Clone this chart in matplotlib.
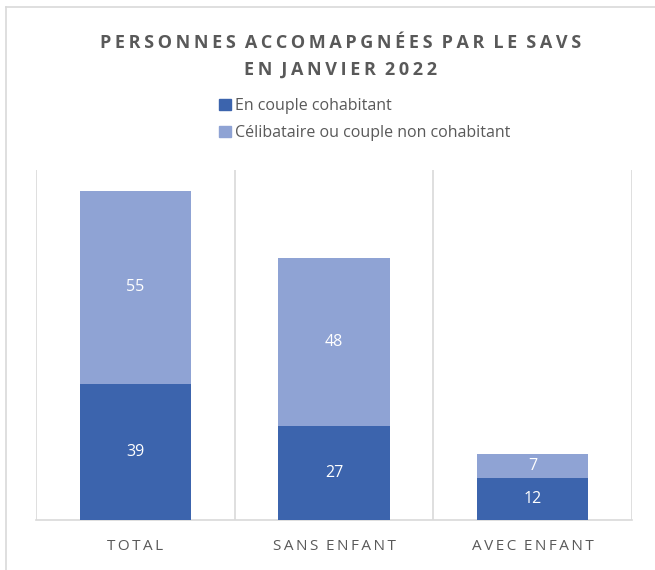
import matplotlib.pyplot as plt
import numpy as np
from matplotlib.lines import Line2D
from matplotlib.patches import Patch

plt.rcParams['font.family'] = ['Open Sans', 'DejaVu Sans']

# data
categories = ['TOTAL', 'SANS ENFANT', 'AVEC ENFANT']
cohabitant = [39, 27, 12]
non_cohabitant = [55, 48, 7]
series_names = ['En couple cohabitant', 'Célibataire ou couple non cohabitant']

dark_blue = '#3C64AD'
light_blue = '#8FA3D4'
grey_txt = '#595959'
grid_col = '#D9D9D9'


def spaced(s):
    # fake letter spacing with thin spaces, wider gap between words
    return '\u2002'.join('\u2009'.join(w) for w in s.split(' '))


fig = plt.figure(figsize=(6.55, 5.70), dpi=100)
ax = fig.add_axes([36 / 655, 1 - 520 / 570, 596 / 655, 350 / 570])

x = np.arange(len(categories))
ax.bar(x, cohabitant, width=0.56, color=dark_blue, zorder=3)
ax.bar(x, non_cohabitant, width=0.56, bottom=cohabitant, color=light_blue, zorder=3)

for i in range(len(categories)):
    ax.text(x[i], cohabitant[i] / 2, str(cohabitant[i]), ha='center', va='center',
            color='white', fontsize=11.5, zorder=4)
    ax.text(x[i], cohabitant[i] + non_cohabitant[i] / 2, str(non_cohabitant[i]),
            ha='center', va='center', color='white', fontsize=11.5, zorder=4)

ax.set_xlim(-0.5, 2.5)
ax.set_ylim(0, 100)
ax.set_yticks([])
for b in np.arange(-0.5, 3, 1):
    ax.axvline(b, color=grid_col, lw=1.2, zorder=1)
for s in ['top', 'right', 'left']:
    ax.spines[s].set_visible(False)
ax.spines['bottom'].set_color(grid_col)
ax.spines['bottom'].set_linewidth(1.2)
ax.set_xticks(x)
ax.set_xticklabels([spaced(c) for c in categories], fontsize=11, color=grey_txt)
ax.tick_params(axis='x', length=0, pad=14)

fig.text(0.52, 1 - 43 / 570, spaced('PERSONNES ACCOMAPGNÉES PAR LE SAVS'), ha='center',
         va='center', fontsize=13, fontweight='bold', color=grey_txt)
fig.text(0.52, 1 - 70 / 570, spaced('EN JANVIER 2022'), ha='center',
         va='center', fontsize=13, fontweight='bold', color=grey_txt)

handles = [Patch(color=dark_blue), Patch(color=light_blue)]
fig.legend(handles, series_names, loc='upper left', bbox_to_anchor=(205 / 655, 1 - 84 / 570),
           frameon=False, fontsize=11.5, labelcolor=grey_txt, handlelength=0.7,
           handleheight=0.7, handletextpad=0.3, labelspacing=0.65)

# chart border
fig.add_artist(Line2D([6 / 655, 6 / 655], [0, 1 - 7 / 570], color=grid_col, lw=1.2))
fig.add_artist(Line2D([6 / 655, 1], [1 - 7 / 570, 1 - 7 / 570], color=grid_col, lw=1.2))

fig.savefig('out.png', dpi=100)
